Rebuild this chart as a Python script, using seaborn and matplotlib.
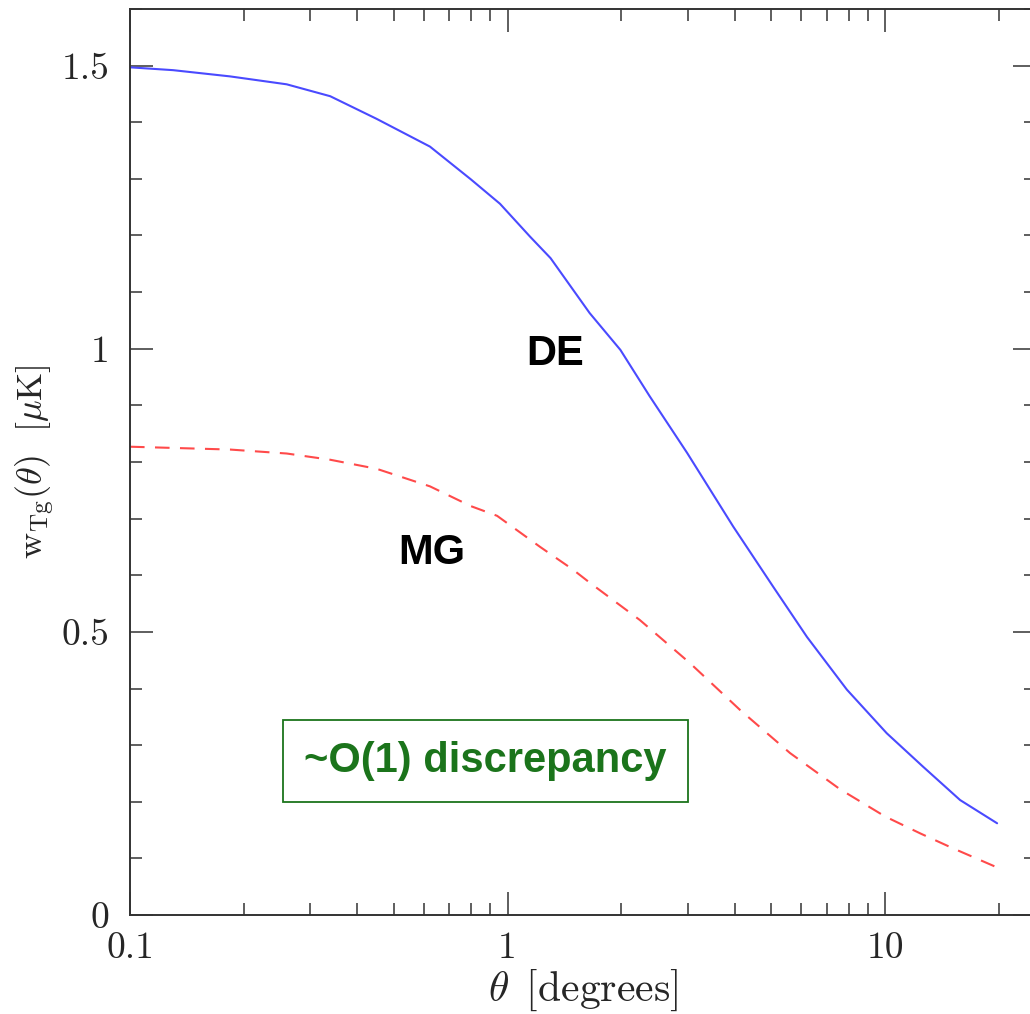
import numpy as np
import pandas as pd
import matplotlib
matplotlib.use("Agg")
import matplotlib.pyplot as plt
import seaborn as sns
from matplotlib.ticker import FixedLocator, NullFormatter

# ---- data ----
theta_de = [0.1, 0.13, 0.184, 0.26, 0.339, 0.45, 0.623, 0.8, 0.955, 1.147, 1.30, 1.65,
            1.99, 2.38, 2.99, 3.96, 5.05, 6.21, 7.92, 10.1, 12.6, 15.8, 19.8]
w_de = [1.497, 1.492, 1.481, 1.467, 1.446, 1.406, 1.357, 1.299, 1.256, 1.198, 1.160, 1.063,
        0.998, 0.916, 0.816, 0.686, 0.58, 0.491, 0.398, 0.321, 0.262, 0.203, 0.162]

theta_mg = [0.1, 0.184, 0.26, 0.339, 0.45, 0.623, 0.8, 0.938, 1.22, 1.49, 1.65, 2.24,
            3.04, 4.13, 5.60, 7.60, 10.0, 12.4, 15.1, 19.8]
w_mg = [0.827, 0.822, 0.815, 0.804, 0.788, 0.757, 0.722, 0.705, 0.650, 0.610, 0.587, 0.521,
        0.445, 0.362, 0.286, 0.222, 0.174, 0.144, 0.118, 0.084]

xtick_vals = [0.1, 1, 10]
xtick_labels = ["0.1", "1", "10"]
ytick_vals = [0, 0.5, 1, 1.5]
ytick_labels = ["0", "0.5", "1", "1.5"]

df_de = pd.DataFrame({"theta": theta_de, "w": w_de})
df_mg = pd.DataFrame({"theta": theta_mg, "w": w_mg})

sns.set_style("ticks")
plt.rcParams["mathtext.fontset"] = "cm"

fig = plt.figure(figsize=(10.30, 10.14), dpi=100)
ax = fig.add_axes([130 / 1030, 1 - 915 / 1014, (1036 - 130) / 1030, (915 - 9) / 1014])

sns.lineplot(data=df_de, x="theta", y="w", ax=ax, color="#4a4aff", linewidth=1.5)
sns.lineplot(data=df_mg, x="theta", y="w", ax=ax, color="#ff4a4a", linewidth=1.5)
ax.lines[1].set_dashes((7, 5))

ax.set_xscale("log")
ax.set_xlim(0.1, 25.1)
ax.set_ylim(0, 1.6)

ax.xaxis.set_major_locator(FixedLocator(xtick_vals))
ax.set_xticklabels(xtick_labels, fontfamily="cmr10", fontsize=27)
ax.xaxis.set_minor_locator(FixedLocator([v * m for v in [0.1, 1, 10] for m in range(2, 10)]))
ax.xaxis.set_minor_formatter(NullFormatter())
ax.yaxis.set_major_locator(FixedLocator(ytick_vals))
ax.set_yticklabels(ytick_labels, fontfamily="cmr10", fontsize=27)
ax.yaxis.set_minor_locator(FixedLocator(np.arange(0, 1.61, 0.1)))

ax.tick_params(which="both", direction="in", top=True, right=True, color="#333333")
ax.tick_params(which="major", length=16.5, width=1.1)
ax.tick_params(which="minor", length=8.6, width=1.1)
ax.tick_params(axis="y", which="major", pad=15)
ax.tick_params(axis="x", which="major", pad=12)
for s in ax.spines.values():
    s.set_linewidth(1.4)
    s.set_color("#333333")

ax.set_xlabel(r"$\theta\ \,[\mathrm{degrees}]$", fontsize=30, labelpad=2)
ax.set_ylabel(r"$\mathrm{w}_{\mathrm{Tg}}(\theta)\ \ [\mu\mathrm{K}]$", fontsize=26, labelpad=4)

bold = dict(fontfamily="Liberation Sans", fontweight="bold", fontsize=30)
ax.text(1.34, 0.99, "DE", color="black", ha="center", va="center", **bold)
ax.text(0.63, 0.64, "MG", color="black", ha="center", va="center", **bold)
ax.text(0.874, 0.272, "~O(1) discrepancy", color="#1b741b", ha="center", va="center",
        bbox=dict(boxstyle="square,pad=0.5", facecolor="white", edgecolor="#1b741b", linewidth=1.3),
        **bold)

fig.savefig("out.png", dpi=100)
